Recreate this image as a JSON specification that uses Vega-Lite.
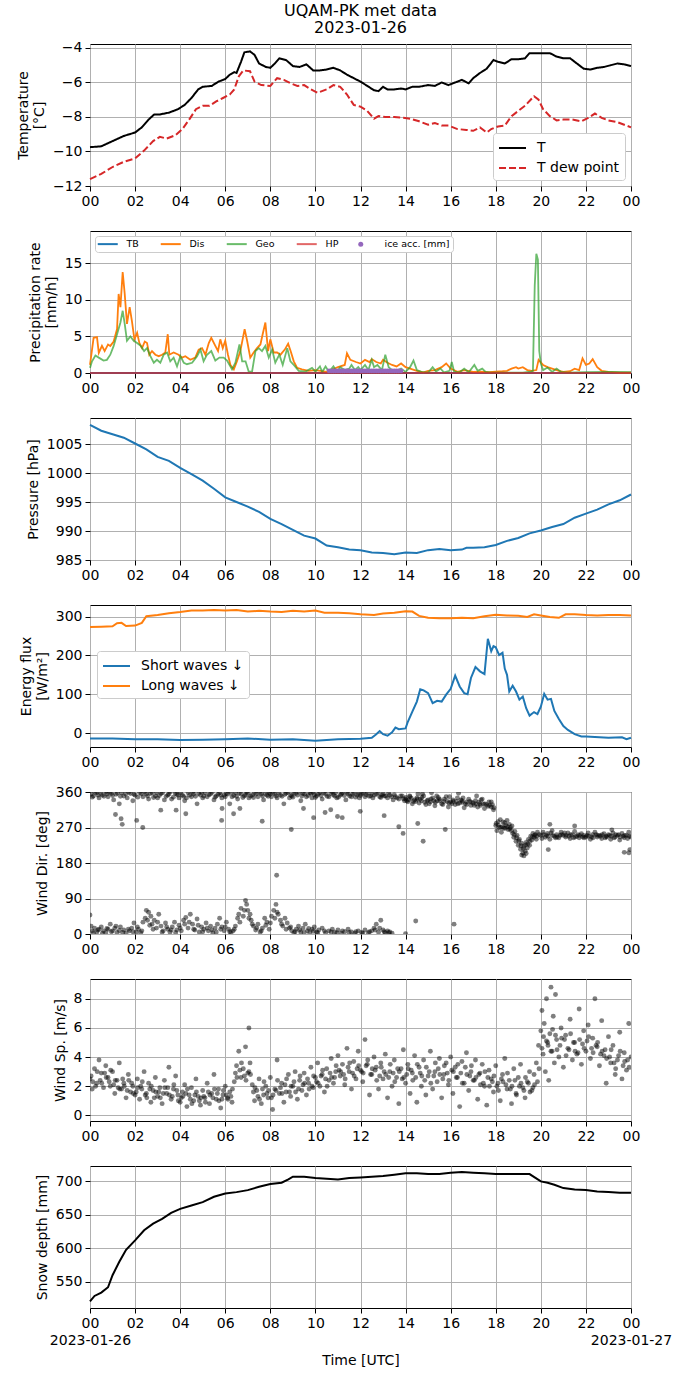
{
  "$schema": "https://vega.github.io/schema/vega-lite/v6.json",
  "padding": {"left": 15, "top": 3, "right": 0, "bottom": 0},
  "title": {"text": ["UQAM-PK met data", "2023-01-26"], "frame": "group", "anchor": "middle", "offset": 4},
  "spacing": 45,
  "bounds": "flush",
  "resolve": {"scale": {"color": "independent", "strokeDash": "independent", "y": "independent"}},
  "datasets": {
    "tT": [{"h":0,"v":-9.75},{"h":0.5,"v":-9.7},{"h":1,"v":-9.4},{"h":1.5,"v":-9.1},{"h":2,"v":-8.9},{"h":2.3,"v":-8.6},{"h":2.6,"v":-8.15},{"h":2.85,"v":-7.85},{"h":3.1,"v":-7.85},{"h":3.5,"v":-7.75},{"h":3.9,"v":-7.55},{"h":4.2,"v":-7.3},{"h":4.5,"v":-6.9},{"h":4.8,"v":-6.4},{"h":5,"v":-6.25},{"h":5.4,"v":-6.2},{"h":5.7,"v":-5.95},{"h":6,"v":-5.8},{"h":6.2,"v":-5.55},{"h":6.4,"v":-5.4},{"h":6.5,"v":-5.45},{"h":6.7,"v":-4.8},{"h":6.85,"v":-4.25},{"h":7.1,"v":-4.2},{"h":7.3,"v":-4.4},{"h":7.5,"v":-4.9},{"h":7.8,"v":-5.1},{"h":8,"v":-5.15},{"h":8.2,"v":-4.9},{"h":8.4,"v":-4.6},{"h":8.7,"v":-4.7},{"h":9,"v":-5.05},{"h":9.3,"v":-5.1},{"h":9.6,"v":-4.95},{"h":9.9,"v":-5.3},{"h":10.2,"v":-5.3},{"h":10.5,"v":-5.25},{"h":10.8,"v":-5.15},{"h":11.1,"v":-5.3},{"h":11.4,"v":-5.55},{"h":11.7,"v":-5.75},{"h":12,"v":-5.95},{"h":12.3,"v":-6.2},{"h":12.6,"v":-6.45},{"h":12.8,"v":-6.5},{"h":13,"v":-6.25},{"h":13.2,"v":-6.4},{"h":13.5,"v":-6.4},{"h":13.8,"v":-6.35},{"h":14,"v":-6.4},{"h":14.3,"v":-6.25},{"h":14.6,"v":-6.25},{"h":15,"v":-6.15},{"h":15.3,"v":-6.2},{"h":15.6,"v":-6.0},{"h":15.9,"v":-6.15},{"h":16.2,"v":-6.0},{"h":16.5,"v":-5.85},{"h":16.8,"v":-6.05},{"h":17,"v":-5.75},{"h":17.3,"v":-5.45},{"h":17.6,"v":-5.2},{"h":17.9,"v":-4.7},{"h":18.1,"v":-4.8},{"h":18.4,"v":-4.9},{"h":18.7,"v":-4.65},{"h":19,"v":-4.65},{"h":19.3,"v":-4.6},{"h":19.5,"v":-4.3},{"h":19.8,"v":-4.3},{"h":20.1,"v":-4.3},{"h":20.4,"v":-4.3},{"h":20.7,"v":-4.5},{"h":21,"v":-4.6},{"h":21.3,"v":-4.6},{"h":21.6,"v":-4.9},{"h":21.9,"v":-5.2},{"h":22.2,"v":-5.25},{"h":22.5,"v":-5.15},{"h":22.8,"v":-5.1},{"h":23.1,"v":-5.0},{"h":23.4,"v":-4.9},{"h":23.7,"v":-4.95},{"h":24,"v":-5.05}],
    "tD": [{"h":0,"v":-11.6},{"h":0.5,"v":-11.3},{"h":1,"v":-10.9},{"h":1.5,"v":-10.6},{"h":2,"v":-10.4},{"h":2.4,"v":-9.95},{"h":2.8,"v":-9.4},{"h":3.1,"v":-9.15},{"h":3.4,"v":-9.25},{"h":3.8,"v":-9.05},{"h":4.1,"v":-8.7},{"h":4.4,"v":-8.15},{"h":4.7,"v":-7.55},{"h":5,"v":-7.35},{"h":5.3,"v":-7.35},{"h":5.6,"v":-7.1},{"h":5.9,"v":-6.9},{"h":6.2,"v":-6.7},{"h":6.4,"v":-6.4},{"h":6.6,"v":-5.65},{"h":6.8,"v":-5.3},{"h":7.1,"v":-5.35},{"h":7.3,"v":-5.95},{"h":7.6,"v":-6.15},{"h":8,"v":-6.2},{"h":8.3,"v":-5.75},{"h":8.6,"v":-5.85},{"h":8.9,"v":-6.05},{"h":9.2,"v":-6.2},{"h":9.5,"v":-6.15},{"h":9.8,"v":-6.4},{"h":10.1,"v":-6.6},{"h":10.5,"v":-6.4},{"h":10.8,"v":-6.15},{"h":11.1,"v":-6.25},{"h":11.4,"v":-6.7},{"h":11.7,"v":-7.3},{"h":12,"v":-7.4},{"h":12.3,"v":-7.65},{"h":12.6,"v":-8.1},{"h":12.8,"v":-7.95},{"h":13.1,"v":-8.0},{"h":13.5,"v":-8.0},{"h":13.9,"v":-8.05},{"h":14.2,"v":-8.1},{"h":14.6,"v":-8.25},{"h":15,"v":-8.45},{"h":15.3,"v":-8.35},{"h":15.6,"v":-8.5},{"h":15.9,"v":-8.5},{"h":16.3,"v":-8.7},{"h":16.7,"v":-8.75},{"h":17,"v":-8.8},{"h":17.3,"v":-8.6},{"h":17.6,"v":-8.9},{"h":17.8,"v":-8.7},{"h":18.1,"v":-8.55},{"h":18.4,"v":-8.5},{"h":18.7,"v":-7.95},{"h":19,"v":-7.65},{"h":19.3,"v":-7.35},{"h":19.55,"v":-7.0},{"h":19.7,"v":-6.8},{"h":19.9,"v":-7.0},{"h":20.1,"v":-7.55},{"h":20.4,"v":-7.95},{"h":20.7,"v":-8.2},{"h":21,"v":-8.15},{"h":21.4,"v":-8.15},{"h":21.8,"v":-8.25},{"h":22.1,"v":-8.05},{"h":22.4,"v":-7.8},{"h":22.7,"v":-8.05},{"h":23,"v":-8.2},{"h":23.4,"v":-8.3},{"h":23.7,"v":-8.45},{"h":24,"v":-8.6}],
    "dis": [{"h":0,"v":1.1},{"h":0.16,"v":4.8},{"h":0.31,"v":4.9},{"h":0.39,"v":2.75},{"h":0.53,"v":3.7},{"h":0.65,"v":3.0},{"h":0.8,"v":3.9},{"h":0.9,"v":3.7},{"h":1.05,"v":4.3},{"h":1.2,"v":6.0},{"h":1.27,"v":10.8},{"h":1.35,"v":9.0},{"h":1.45,"v":13.8},{"h":1.54,"v":10.8},{"h":1.64,"v":6.7},{"h":1.76,"v":9.0},{"h":1.86,"v":7.1},{"h":1.97,"v":4.6},{"h":2.09,"v":5.5},{"h":2.19,"v":4.1},{"h":2.31,"v":3.4},{"h":2.43,"v":4.3},{"h":2.53,"v":4.1},{"h":2.63,"v":2.5},{"h":2.75,"v":3.0},{"h":2.9,"v":2.5},{"h":3.05,"v":2.3},{"h":3.2,"v":2.5},{"h":3.34,"v":2.8},{"h":3.45,"v":5.3},{"h":3.52,"v":2.5},{"h":3.71,"v":2.8},{"h":3.93,"v":2.5},{"h":4.08,"v":2.1},{"h":4.23,"v":2.3},{"h":4.45,"v":1.8},{"h":4.67,"v":2.1},{"h":4.82,"v":3.2},{"h":4.97,"v":3.4},{"h":5.12,"v":2.5},{"h":5.27,"v":4.1},{"h":5.38,"v":4.8},{"h":5.56,"v":3.7},{"h":5.68,"v":3.0},{"h":5.78,"v":4.6},{"h":5.89,"v":3.4},{"h":6.0,"v":4.4},{"h":6.12,"v":2.5},{"h":6.23,"v":1.1},{"h":6.38,"v":0.5},{"h":6.52,"v":1.6},{"h":6.67,"v":3.0},{"h":6.86,"v":6.0},{"h":6.97,"v":4.4},{"h":7.11,"v":2.1},{"h":7.26,"v":2.8},{"h":7.41,"v":3.4},{"h":7.56,"v":3.9},{"h":7.66,"v":5.3},{"h":7.78,"v":6.9},{"h":7.9,"v":3.0},{"h":8.0,"v":4.6},{"h":8.15,"v":2.8},{"h":8.3,"v":2.8},{"h":8.45,"v":2.5},{"h":8.64,"v":3.2},{"h":8.79,"v":4.0},{"h":8.9,"v":3.0},{"h":9.04,"v":1.6},{"h":9.19,"v":0.7},{"h":9.4,"v":0.5},{"h":9.7,"v":0.3},{"h":10.0,"v":0.4},{"h":10.5,"v":0.15},{"h":11.0,"v":0.8},{"h":11.3,"v":1.1},{"h":11.4,"v":2.7},{"h":11.55,"v":1.8},{"h":11.8,"v":1.5},{"h":12.0,"v":1.3},{"h":12.2,"v":1.8},{"h":12.4,"v":1.5},{"h":12.5,"v":1.9},{"h":12.7,"v":1.5},{"h":12.9,"v":1.3},{"h":13.0,"v":1.8},{"h":13.2,"v":1.4},{"h":13.4,"v":1.1},{"h":13.6,"v":0.9},{"h":13.8,"v":1.3},{"h":14.0,"v":0.8},{"h":14.2,"v":0.6},{"h":14.5,"v":0.3},{"h":14.8,"v":0.1},{"h":15.0,"v":0.3},{"h":15.3,"v":0.4},{"h":15.6,"v":0.8},{"h":15.8,"v":1.3},{"h":16.0,"v":0.6},{"h":16.3,"v":0.15},{"h":16.6,"v":0.4},{"h":17.0,"v":0.15},{"h":17.3,"v":0.2},{"h":17.7,"v":0.1},{"h":18.0,"v":0.2},{"h":18.3,"v":0.25},{"h":18.5,"v":0.3},{"h":18.7,"v":0.6},{"h":18.9,"v":0.8},{"h":19.0,"v":0.6},{"h":19.2,"v":0.8},{"h":19.4,"v":0.4},{"h":19.6,"v":0.3},{"h":19.8,"v":0.4},{"h":19.9,"v":1.8},{"h":20.1,"v":1.1},{"h":20.3,"v":0.8},{"h":20.5,"v":0.6},{"h":20.8,"v":0.3},{"h":21.0,"v":0.15},{"h":21.3,"v":0.25},{"h":21.5,"v":0.6},{"h":21.7,"v":0.4},{"h":21.85,"v":2.0},{"h":22.0,"v":1.1},{"h":22.15,"v":1.3},{"h":22.3,"v":1.9},{"h":22.5,"v":0.8},{"h":22.7,"v":0.3},{"h":23.0,"v":0.15},{"h":23.5,"v":0.05},{"h":24.0,"v":0.05}],
    "geo": [{"h":0,"v":0.7},{"h":0.09,"v":1.6},{"h":0.24,"v":2.4},{"h":0.39,"v":2.1},{"h":0.6,"v":1.7},{"h":0.75,"v":1.8},{"h":0.9,"v":2.5},{"h":1.05,"v":3.7},{"h":1.2,"v":5.3},{"h":1.35,"v":6.9},{"h":1.45,"v":8.5},{"h":1.54,"v":6.7},{"h":1.64,"v":4.4},{"h":1.79,"v":5.0},{"h":1.94,"v":4.4},{"h":2.09,"v":4.1},{"h":2.25,"v":3.7},{"h":2.4,"v":3.0},{"h":2.53,"v":3.4},{"h":2.68,"v":2.3},{"h":2.83,"v":1.4},{"h":2.97,"v":1.8},{"h":3.12,"v":1.4},{"h":3.27,"v":2.5},{"h":3.42,"v":2.8},{"h":3.56,"v":1.6},{"h":3.71,"v":2.1},{"h":3.86,"v":0.9},{"h":4.01,"v":2.3},{"h":4.16,"v":1.4},{"h":4.3,"v":1.2},{"h":4.53,"v":1.4},{"h":4.75,"v":2.3},{"h":4.9,"v":3.2},{"h":5.04,"v":1.6},{"h":5.19,"v":2.5},{"h":5.38,"v":3.0},{"h":5.56,"v":1.7},{"h":5.74,"v":2.1},{"h":5.93,"v":2.1},{"h":6.08,"v":1.7},{"h":6.3,"v":0.5},{"h":6.45,"v":1.4},{"h":6.63,"v":3.9},{"h":6.75,"v":1.6},{"h":6.9,"v":1.6},{"h":7.04,"v":0.2},{"h":7.19,"v":0.2},{"h":7.34,"v":3.0},{"h":7.49,"v":3.4},{"h":7.63,"v":3.0},{"h":7.78,"v":3.7},{"h":7.93,"v":2.1},{"h":8.08,"v":3.2},{"h":8.22,"v":1.4},{"h":8.4,"v":2.5},{"h":8.55,"v":1.1},{"h":8.75,"v":3.4},{"h":8.89,"v":1.6},{"h":9.04,"v":1.1},{"h":9.26,"v":0.3},{"h":9.56,"v":0.2},{"h":9.85,"v":0.7},{"h":10.0,"v":0.2},{"h":10.2,"v":0.9},{"h":10.3,"v":0.15},{"h":10.45,"v":0.9},{"h":10.6,"v":0.15},{"h":10.8,"v":0.9},{"h":10.95,"v":0.15},{"h":11.1,"v":0.8},{"h":11.3,"v":0.4},{"h":11.5,"v":0.6},{"h":11.6,"v":1.1},{"h":11.75,"v":0.4},{"h":11.9,"v":0.8},{"h":12.0,"v":0.4},{"h":12.2,"v":1.1},{"h":12.35,"v":0.4},{"h":12.5,"v":1.8},{"h":12.6,"v":0.8},{"h":12.75,"v":1.1},{"h":12.95,"v":0.4},{"h":13.1,"v":2.5},{"h":13.25,"v":0.8},{"h":13.4,"v":0.4},{"h":13.6,"v":0.3},{"h":13.8,"v":0.6},{"h":14.0,"v":0.15},{"h":14.2,"v":0.8},{"h":14.35,"v":1.7},{"h":14.5,"v":0.4},{"h":14.7,"v":0.15},{"h":15.0,"v":0.05},{"h":15.2,"v":0.8},{"h":15.35,"v":0.2},{"h":15.55,"v":0.6},{"h":15.7,"v":0.1},{"h":15.95,"v":0.3},{"h":16.05,"v":1.5},{"h":16.15,"v":0.2},{"h":16.4,"v":0.1},{"h":16.6,"v":0.6},{"h":16.8,"v":0.1},{"h":17.05,"v":1.1},{"h":17.2,"v":0.3},{"h":17.4,"v":0.6},{"h":17.55,"v":0.15},{"h":17.8,"v":0.05},{"h":18.5,"v":0.05},{"h":19.2,"v":0.05},{"h":19.55,"v":0.2},{"h":19.65,"v":0.3},{"h":19.73,"v":12},{"h":19.8,"v":16.3},{"h":19.87,"v":15.5},{"h":19.93,"v":3},{"h":20.0,"v":1.3},{"h":20.1,"v":0.4},{"h":20.3,"v":0.75},{"h":20.5,"v":0.15},{"h":20.7,"v":0.6},{"h":20.9,"v":0.15},{"h":21.2,"v":0.05},{"h":22.0,"v":0.1},{"h":23.0,"v":0.15},{"h":24.0,"v":0.1}],
    "zero": [{"h":0,"v":0},{"h":24,"v":0}],
    "ice": [{"h":10.6,"v":0.3},{"h":10.7,"v":0.3},{"h":10.8,"v":0.3},{"h":10.9,"v":0.3},{"h":11.0,"v":0.3},{"h":11.1,"v":0.3},{"h":11.2,"v":0.3},{"h":11.3,"v":0.3},{"h":11.4,"v":0.3},{"h":11.5,"v":0.3},{"h":11.6,"v":0.3},{"h":11.7,"v":0.3},{"h":11.8,"v":0.3},{"h":11.9,"v":0.3},{"h":12.0,"v":0.3},{"h":12.1,"v":0.3},{"h":12.2,"v":0.3},{"h":12.3,"v":0.3},{"h":12.4,"v":0.3},{"h":12.5,"v":0.3},{"h":12.6,"v":0.3},{"h":12.7,"v":0.3},{"h":12.8,"v":0.3},{"h":12.9,"v":0.3},{"h":13.0,"v":0.3},{"h":13.1,"v":0.3},{"h":13.2,"v":0.3},{"h":13.3,"v":0.3},{"h":13.4,"v":0.3},{"h":13.5,"v":0.3},{"h":13.6,"v":0.3},{"h":13.7,"v":0.3},{"h":13.8,"v":0.3}],
    "pres": [{"h":0,"v":1008.3},{"h":0.5,"v":1007.3},{"h":1,"v":1006.7},{"h":1.5,"v":1006.1},{"h":2,"v":1005.1},{"h":2.5,"v":1004.1},{"h":3,"v":1002.8},{"h":3.5,"v":1002.1},{"h":4,"v":1000.9},{"h":4.5,"v":999.8},{"h":5,"v":998.7},{"h":5.5,"v":997.3},{"h":6,"v":995.8},{"h":6.5,"v":995.0},{"h":7,"v":994.2},{"h":7.5,"v":993.3},{"h":8,"v":992.1},{"h":8.5,"v":991.2},{"h":9,"v":990.2},{"h":9.5,"v":989.2},{"h":10,"v":988.7},{"h":10.5,"v":987.5},{"h":11,"v":987.2},{"h":11.5,"v":986.8},{"h":12,"v":986.7},{"h":12.5,"v":986.3},{"h":13,"v":986.2},{"h":13.5,"v":986.0},{"h":14,"v":986.3},{"h":14.5,"v":986.2},{"h":15,"v":986.7},{"h":15.5,"v":986.9},{"h":16,"v":986.7},{"h":16.5,"v":986.8},{"h":16.7,"v":987.1},{"h":17,"v":987.1},{"h":17.5,"v":987.2},{"h":18,"v":987.6},{"h":18.5,"v":988.3},{"h":19,"v":988.8},{"h":19.5,"v":989.6},{"h":20,"v":990.1},{"h":20.5,"v":990.7},{"h":21,"v":991.2},{"h":21.5,"v":992.3},{"h":22,"v":993.0},{"h":22.5,"v":993.7},{"h":23,"v":994.6},{"h":23.5,"v":995.3},{"h":24,"v":996.3}],
    "lw": [{"h":0,"v":273},{"h":0.5,"v":274},{"h":1,"v":275},{"h":1.2,"v":283},{"h":1.4,"v":284},{"h":1.6,"v":276},{"h":2,"v":277},{"h":2.3,"v":284},{"h":2.5,"v":301},{"h":3,"v":304},{"h":3.5,"v":309},{"h":4,"v":312},{"h":4.5,"v":316},{"h":5,"v":316},{"h":5.5,"v":317},{"h":6,"v":316},{"h":6.5,"v":317},{"h":7,"v":313},{"h":7.5,"v":315},{"h":8,"v":313},{"h":8.5,"v":312},{"h":9,"v":315},{"h":9.5,"v":313},{"h":10,"v":316},{"h":10.4,"v":310},{"h":11,"v":310},{"h":11.5,"v":309},{"h":12,"v":306},{"h":12.6,"v":304},{"h":13,"v":308},{"h":13.5,"v":310},{"h":14,"v":314},{"h":14.3,"v":313},{"h":14.6,"v":302},{"h":15,"v":297},{"h":15.5,"v":296},{"h":16,"v":296},{"h":16.5,"v":297},{"h":17,"v":296},{"h":17.5,"v":301},{"h":18,"v":305},{"h":18.5,"v":303},{"h":19,"v":302},{"h":19.4,"v":299},{"h":19.7,"v":306},{"h":20,"v":303},{"h":20.4,"v":299},{"h":20.8,"v":297},{"h":21.1,"v":306},{"h":21.5,"v":306},{"h":22,"v":304},{"h":22.5,"v":303},{"h":23,"v":304},{"h":23.5,"v":304},{"h":24,"v":303}],
    "sw": [{"h":0,"v":-14},{"h":1,"v":-14},{"h":2,"v":-16},{"h":3,"v":-16},{"h":4,"v":-18},{"h":5,"v":-17},{"h":6,"v":-16},{"h":7,"v":-14},{"h":8,"v":-17},{"h":9,"v":-16},{"h":10,"v":-20},{"h":11,"v":-16},{"h":12,"v":-15},{"h":12.5,"v":-12},{"h":12.7,"v":-3},{"h":12.85,"v":5},{"h":13,"v":-3},{"h":13.2,"v":-7},{"h":13.4,"v":2},{"h":13.55,"v":14},{"h":13.7,"v":10},{"h":14,"v":12},{"h":14.1,"v":29},{"h":14.3,"v":55},{"h":14.5,"v":81},{"h":14.65,"v":113},{"h":14.8,"v":110},{"h":15,"v":103},{"h":15.2,"v":77},{"h":15.4,"v":83},{"h":15.6,"v":81},{"h":15.8,"v":99},{"h":16,"v":114},{"h":16.2,"v":148},{"h":16.4,"v":120},{"h":16.6,"v":103},{"h":16.75,"v":100},{"h":16.9,"v":142},{"h":17.1,"v":170},{"h":17.3,"v":159},{"h":17.5,"v":152},{"h":17.65,"v":243},{"h":17.8,"v":211},{"h":17.9,"v":224},{"h":18,"v":221},{"h":18.15,"v":201},{"h":18.3,"v":207},{"h":18.4,"v":166},{"h":18.5,"v":150},{"h":18.6,"v":107},{"h":18.75,"v":122},{"h":18.9,"v":107},{"h":19.05,"v":86},{"h":19.2,"v":94},{"h":19.35,"v":64},{"h":19.5,"v":45},{"h":19.7,"v":54},{"h":19.85,"v":49},{"h":20,"v":68},{"h":20.15,"v":101},{"h":20.3,"v":86},{"h":20.45,"v":88},{"h":20.6,"v":57},{"h":20.8,"v":36},{"h":21,"v":18},{"h":21.2,"v":8},{"h":21.5,"v":-3},{"h":21.8,"v":-9},{"h":22,"v":-9},{"h":23,"v":-12},{"h":23.6,"v":-11},{"h":23.8,"v":-16},{"h":24,"v":-12}],
    "wd": [{"h":0.05,"v":355},{"h":0.15,"v":350},{"h":0.3,"v":358},{"h":0.4,"v":345},{"h":0.55,"v":352},{"h":0.7,"v":360},{"h":0.8,"v":348},{"h":0.95,"v":356},{"h":1.05,"v":340},{"h":1.15,"v":354},{"h":1.3,"v":330},{"h":1.4,"v":358},{"h":1.5,"v":350},{"h":1.65,"v":345},{"h":1.8,"v":356},{"h":1.9,"v":338},{"h":2.0,"v":352},{"h":2.2,"v":358},{"h":2.35,"v":348},{"h":2.5,"v":355},{"h":2.6,"v":342},{"h":2.75,"v":358},{"h":2.9,"v":350},{"h":3.0,"v":345},{"h":3.15,"v":356},{"h":3.3,"v":340},{"h":3.45,"v":352},{"h":3.55,"v":360},{"h":3.7,"v":347},{"h":3.85,"v":355},{"h":3.95,"v":345},{"h":4.1,"v":352},{"h":4.2,"v":338},{"h":4.35,"v":358},{"h":4.5,"v":348},{"h":4.6,"v":355},{"h":4.75,"v":330},{"h":4.9,"v":352},{"h":5.0,"v":345},{"h":5.1,"v":358},{"h":5.2,"v":348},{"h":5.35,"v":355},{"h":5.5,"v":340},{"h":5.6,"v":350},{"h":5.75,"v":358},{"h":5.85,"v":345},{"h":5.95,"v":352},{"h":6.05,"v":356},{"h":6.2,"v":330},{"h":6.3,"v":348},{"h":6.45,"v":358},{"h":6.55,"v":342},{"h":6.7,"v":355},{"h":6.85,"v":350},{"h":6.95,"v":360},{"h":7.05,"v":345},{"h":7.2,"v":352},{"h":7.3,"v":358},{"h":7.45,"v":348},{"h":7.6,"v":355},{"h":7.7,"v":340},{"h":7.85,"v":352},{"h":7.95,"v":358},{"h":8.05,"v":348},{"h":8.2,"v":355},{"h":8.3,"v":345},{"h":8.45,"v":352},{"h":8.6,"v":330},{"h":8.7,"v":357},{"h":8.85,"v":345},{"h":8.95,"v":350},{"h":9.05,"v":358},{"h":9.2,"v":352},{"h":9.35,"v":338},{"h":9.45,"v":356},{"h":9.6,"v":348},{"h":9.75,"v":358},{"h":9.85,"v":345},{"h":9.95,"v":353},{"h":10.05,"v":350},{"h":10.2,"v":358},{"h":10.3,"v":342},{"h":10.45,"v":355},{"h":10.6,"v":348},{"h":10.75,"v":360},{"h":10.85,"v":350},{"h":10.95,"v":345},{"h":11.1,"v":352},{"h":11.2,"v":358},{"h":11.35,"v":340},{"h":11.45,"v":355},{"h":11.6,"v":348},{"h":11.7,"v":358},{"h":11.85,"v":352},{"h":11.95,"v":345},{"h":12.05,"v":355},{"h":12.2,"v":348},{"h":12.3,"v":358},{"h":12.45,"v":350},{"h":12.55,"v":345},{"h":12.7,"v":355},{"h":12.85,"v":348},{"h":12.95,"v":352},{"h":13.05,"v":350},{"h":13.2,"v":345},{"h":13.3,"v":352},{"h":13.45,"v":340},{"h":13.55,"v":348},{"h":13.7,"v":342},{"h":13.85,"v":350},{"h":13.95,"v":338},
      {"h":0.1,"v":347},{"h":0.22,"v":359},{"h":0.35,"v":352},{"h":0.48,"v":356},{"h":0.62,"v":349},{"h":0.75,"v":355},{"h":0.88,"v":359},{"h":1.0,"v":351},{"h":1.22,"v":357},{"h":1.35,"v":349},{"h":1.58,"v":355},{"h":1.72,"v":359},{"h":1.95,"v":354},{"h":2.12,"v":347},{"h":2.28,"v":355},{"h":2.42,"v":360},{"h":2.55,"v":350},{"h":2.68,"v":356},{"h":2.82,"v":346},{"h":2.95,"v":358},{"h":3.08,"v":351},{"h":3.22,"v":358},{"h":3.38,"v":349},{"h":3.5,"v":355},{"h":3.62,"v":342},{"h":3.78,"v":357},{"h":3.9,"v":352},{"h":4.02,"v":358},{"h":4.15,"v":349},{"h":4.28,"v":345},{"h":4.42,"v":352},{"h":4.55,"v":359},{"h":4.68,"v":349},{"h":4.82,"v":356},{"h":4.95,"v":359},{"h":5.05,"v":350},{"h":5.28,"v":353},{"h":5.42,"v":359},{"h":5.55,"v":347},{"h":5.68,"v":354},{"h":5.8,"v":352},{"h":6.0,"v":348},{"h":6.12,"v":355},{"h":6.25,"v":359},{"h":6.38,"v":351},{"h":6.5,"v":349},{"h":6.62,"v":357},{"h":6.78,"v":346},{"h":6.9,"v":353},{"h":7.0,"v":357},{"h":7.12,"v":350},{"h":7.25,"v":346},{"h":7.38,"v":355},{"h":7.52,"v":359},{"h":7.65,"v":350},{"h":7.78,"v":356},{"h":7.9,"v":349},{"h":8.0,"v":355},{"h":8.12,"v":359},{"h":8.25,"v":350},{"h":8.38,"v":357},{"h":8.52,"v":349},{"h":8.65,"v":354},{"h":8.78,"v":359},{"h":8.9,"v":352},{"h":9.0,"v":347},{"h":9.12,"v":356},{"h":9.28,"v":359},{"h":9.4,"v":350},{"h":9.52,"v":355},{"h":9.68,"v":351},{"h":9.8,"v":356},{"h":9.9,"v":359},{"h":10.0,"v":346},{"h":10.12,"v":354},{"h":10.25,"v":351},{"h":10.38,"v":358},{"h":10.52,"v":349},{"h":10.68,"v":356},{"h":10.8,"v":353},{"h":10.9,"v":358},{"h":11.02,"v":347},{"h":11.15,"v":355},{"h":11.28,"v":351},{"h":11.4,"v":359},{"h":11.52,"v":350},{"h":11.65,"v":354},{"h":11.78,"v":347},{"h":11.9,"v":356},{"h":12.0,"v":351},{"h":12.12,"v":358},{"h":12.25,"v":353},{"h":12.38,"v":349},{"h":12.5,"v":356},{"h":12.62,"v":352},{"h":12.78,"v":358},{"h":12.9,"v":346},{"h":13.0,"v":355},{"h":13.12,"v":350},{"h":13.25,"v":357},{"h":13.38,"v":348},{"h":13.5,"v":353},{"h":13.62,"v":345},{"h":13.78,"v":350},{"h":13.9,"v":343},
      {"h":1.13,"v":303},{"h":1.38,"v":292},{"h":1.43,"v":278},{"h":2.07,"v":288},{"h":2.34,"v":270},{"h":3.14,"v":314},{"h":3.82,"v":314},{"h":4.25,"v":305},{"h":5.84,"v":288},{"h":5.86,"v":318},{"h":6.37,"v":305},{"h":6.65,"v":318},{"h":7.64,"v":286},{"h":8.28,"v":149},{"h":8.93,"v":265},{"h":9.47,"v":318},{"h":9.92,"v":295},{"h":10.43,"v":308},{"h":10.68,"v":315},{"h":10.98,"v":298},{"h":11.19,"v":295},{"h":11.99,"v":311},{"h":13.05,"v":300},{"h":13.7,"v":272},{"h":13.89,"v":255},{"h":14.54,"v":280},{"h":14.78,"v":235},{"h":15.76,"v":265},
      {"h":0.0,"v":48},{"h":0.05,"v":20},{"h":0.1,"v":8},{"h":0.2,"v":15},{"h":0.3,"v":5},{"h":0.4,"v":12},{"h":0.5,"v":18},{"h":0.6,"v":8},{"h":0.7,"v":3},{"h":0.8,"v":12},{"h":0.9,"v":25},{"h":1.0,"v":8},{"h":1.1,"v":15},{"h":1.2,"v":4},{"h":1.35,"v":18},{"h":1.5,"v":10},{"h":1.6,"v":2},{"h":1.75,"v":8},{"h":1.85,"v":15},{"h":1.95,"v":28},{"h":2.05,"v":5},{"h":2.15,"v":12},{"h":2.25,"v":3},{"h":2.35,"v":30},{"h":2.45,"v":40},{"h":2.5,"v":60},{"h":2.6,"v":55},{"h":2.7,"v":45},{"h":2.75,"v":25},{"h":2.85,"v":35},{"h":2.95,"v":15},{"h":3.05,"v":50},{"h":3.15,"v":20},{"h":3.25,"v":8},{"h":3.35,"v":28},{"h":3.45,"v":12},{"h":3.55,"v":5},{"h":3.65,"v":18},{"h":3.75,"v":30},{"h":3.85,"v":10},{"h":3.95,"v":22},{"h":4.05,"v":8},{"h":4.15,"v":35},{"h":4.25,"v":42},{"h":4.35,"v":15},{"h":4.45,"v":50},{"h":4.55,"v":25},{"h":4.65,"v":10},{"h":4.75,"v":38},{"h":4.85,"v":5},{"h":4.95,"v":18},{"h":5.05,"v":12},{"h":5.15,"v":28},{"h":5.25,"v":8},{"h":5.35,"v":20},{"h":5.45,"v":3},{"h":5.55,"v":15},{"h":5.65,"v":25},{"h":5.75,"v":40},{"h":5.85,"v":18},{"h":5.95,"v":8},{"h":6.05,"v":30},{"h":6.15,"v":12},{"h":6.25,"v":3},{"h":6.35,"v":8},{"h":6.45,"v":20},{"h":6.55,"v":40},{"h":6.6,"v":50},{"h":6.7,"v":65},{"h":6.8,"v":45},{"h":6.9,"v":85},{"h":6.95,"v":75},{"h":7.0,"v":60},{"h":7.1,"v":50},{"h":7.15,"v":35},{"h":7.25,"v":20},{"h":7.35,"v":10},{"h":7.45,"v":25},{"h":7.55,"v":5},{"h":7.65,"v":15},{"h":7.75,"v":40},{"h":7.85,"v":30},{"h":7.95,"v":12},{"h":8.05,"v":45},{"h":8.15,"v":60},{"h":8.25,"v":75},{"h":8.35,"v":50},{"h":8.45,"v":35},{"h":8.55,"v":20},{"h":8.65,"v":40},{"h":8.75,"v":28},{"h":8.85,"v":15},{"h":8.95,"v":8},{"h":9.05,"v":3},{"h":9.15,"v":12},{"h":9.25,"v":20},{"h":9.35,"v":5},{"h":9.45,"v":15},{"h":9.55,"v":25},{"h":9.65,"v":8},{"h":9.75,"v":3},{"h":9.85,"v":12},{"h":9.95,"v":18},{"h":10.05,"v":5},{"h":10.15,"v":10},{"h":10.3,"v":15},{"h":10.45,"v":3},{"h":10.6,"v":8},{"h":10.75,"v":12},{"h":10.85,"v":4},{"h":11.0,"v":10},{"h":11.15,"v":2},{"h":11.3,"v":6},{"h":11.45,"v":12},{"h":11.6,"v":5},{"h":11.75,"v":2},{"h":11.9,"v":8},{"h":12.05,"v":4},{"h":12.2,"v":10},{"h":12.35,"v":3},{"h":12.5,"v":8},{"h":12.6,"v":15},{"h":12.7,"v":25},{"h":12.8,"v":5},{"h":12.9,"v":35},{"h":13.0,"v":10},{"h":13.1,"v":3},{"h":13.2,"v":8},{"h":13.3,"v":5},{"h":13.4,"v":2},{"h":14.0,"v":1},{"h":14.45,"v":33},{"h":16.15,"v":25},
      {"h":0.15,"v":3},{"h":0.35,"v":10},{"h":0.55,"v":2},{"h":0.75,"v":14},{"h":0.95,"v":6},{"h":1.15,"v":20},{"h":1.3,"v":9},{"h":1.45,"v":4},{"h":1.7,"v":12},{"h":1.9,"v":6},{"h":2.1,"v":18},{"h":2.3,"v":8},{"h":2.55,"v":35},{"h":2.65,"v":22},{"h":2.8,"v":12},{"h":3.0,"v":30},{"h":3.2,"v":5},{"h":3.4,"v":18},{"h":3.6,"v":10},{"h":3.8,"v":4},{"h":4.0,"v":15},{"h":4.2,"v":25},{"h":4.4,"v":30},{"h":4.6,"v":12},{"h":4.8,"v":22},{"h":5.0,"v":6},{"h":5.2,"v":15},{"h":5.4,"v":10},{"h":5.6,"v":5},{"h":5.8,"v":12},{"h":6.0,"v":18},{"h":6.2,"v":6},{"h":6.4,"v":12},{"h":6.65,"v":30},{"h":6.85,"v":60},{"h":7.05,"v":40},{"h":7.2,"v":25},{"h":7.4,"v":15},{"h":7.6,"v":8},{"h":7.8,"v":22},{"h":8.0,"v":28},{"h":8.2,"v":40},{"h":8.3,"v":55},{"h":8.5,"v":25},{"h":8.7,"v":12},{"h":8.9,"v":18},{"h":9.1,"v":6},{"h":9.3,"v":10},{"h":9.5,"v":4},{"h":9.7,"v":14},{"h":9.9,"v":7},{"h":10.1,"v":3},{"h":10.4,"v":8},{"h":10.7,"v":5},{"h":10.95,"v":3},{"h":11.2,"v":8},{"h":11.5,"v":4},{"h":11.8,"v":6},{"h":12.1,"v":2},{"h":12.4,"v":6},{"h":12.65,"v":10},{"h":12.85,"v":15},{"h":13.05,"v":6},{"h":13.25,"v":3},
      {"h":14.0,"v":342},{"h":14.1,"v":335},{"h":14.2,"v":348},{"h":14.3,"v":330},{"h":14.4,"v":340},{"h":14.5,"v":345},{"h":14.6,"v":332},{"h":14.7,"v":338},{"h":14.8,"v":350},{"h":14.9,"v":328},{"h":15.0,"v":340},{"h":15.1,"v":335},{"h":15.2,"v":345},{"h":15.3,"v":325},{"h":15.4,"v":338},{"h":15.5,"v":342},{"h":15.6,"v":330},{"h":15.7,"v":336},{"h":15.8,"v":348},{"h":15.9,"v":322},{"h":16.0,"v":335},{"h":16.1,"v":340},{"h":16.2,"v":328},{"h":16.3,"v":345},{"h":16.4,"v":332},{"h":16.5,"v":338},{"h":16.6,"v":320},{"h":16.7,"v":335},{"h":16.8,"v":342},{"h":16.9,"v":326},{"h":17.0,"v":332},{"h":17.1,"v":338},{"h":17.2,"v":322},{"h":17.3,"v":330},{"h":17.4,"v":342},{"h":17.5,"v":318},{"h":17.6,"v":328},{"h":17.7,"v":335},{"h":17.8,"v":322},{"h":17.9,"v":315},{"h":14.05,"v":338},{"h":14.25,"v":344},{"h":14.45,"v":336},{"h":14.65,"v":342},{"h":14.85,"v":334},{"h":15.05,"v":330},{"h":15.25,"v":338},{"h":15.45,"v":346},{"h":15.65,"v":328},{"h":15.85,"v":336},{"h":16.05,"v":330},{"h":16.25,"v":336},{"h":16.45,"v":340},{"h":16.65,"v":330},{"h":16.85,"v":336},{"h":17.05,"v":326},{"h":17.25,"v":334},{"h":17.45,"v":330},{"h":17.65,"v":324},{"h":17.85,"v":328},{"h":14.55,"v":355},{"h":15.15,"v":358},{"h":16.35,"v":357},{"h":17.15,"v":350},
      {"h":14.02,"v":346},{"h":14.15,"v":340},{"h":14.35,"v":336},{"h":14.52,"v":342},{"h":14.72,"v":346},{"h":14.95,"v":338},{"h":15.12,"v":342},{"h":15.32,"v":334},{"h":15.52,"v":338},{"h":15.72,"v":342},{"h":15.92,"v":332},{"h":16.12,"v":336},{"h":16.32,"v":330},{"h":16.52,"v":334},{"h":16.72,"v":328},{"h":16.92,"v":334},{"h":17.12,"v":330},{"h":17.32,"v":326},{"h":17.52,"v":330},{"h":17.72,"v":326},{"h":17.92,"v":320},{"h":14.18,"v":350},{"h":14.75,"v":355},{"h":15.38,"v":350},{"h":15.95,"v":348},{"h":16.55,"v":345},{"h":17.35,"v":340},{"h":17.8,"v":335},
      {"h":18.0,"v":275},{"h":18.05,"v":262},{"h":18.1,"v":285},{"h":18.15,"v":270},{"h":18.2,"v":290},{"h":18.25,"v":258},{"h":18.3,"v":272},{"h":18.35,"v":268},{"h":18.4,"v":282},{"h":18.45,"v":275},{"h":18.5,"v":288},{"h":18.55,"v":265},{"h":18.6,"v":278},{"h":18.65,"v":270},{"h":18.7,"v":262},{"h":18.75,"v":255},{"h":18.8,"v":245},{"h":18.85,"v":260},{"h":18.9,"v":235},{"h":18.95,"v":250},{"h":19.0,"v":225},{"h":19.05,"v":240},{"h":19.1,"v":215},{"h":19.15,"v":230},{"h":19.2,"v":205},{"h":19.25,"v":222},{"h":19.3,"v":210},{"h":19.35,"v":232},{"h":19.4,"v":218},{"h":19.45,"v":240},{"h":19.5,"v":225},{"h":19.55,"v":248},{"h":19.6,"v":238},{"h":19.65,"v":255},{"h":19.7,"v":245},{"h":19.75,"v":252},{"h":19.8,"v":240},{"h":19.85,"v":258},
      {"h":18.02,"v":280},{"h":18.12,"v":276},{"h":18.22,"v":270},{"h":18.32,"v":284},{"h":18.42,"v":268},{"h":18.52,"v":272},{"h":18.62,"v":266},{"h":18.72,"v":274},{"h":18.82,"v":252},{"h":18.92,"v":244},{"h":19.02,"v":236},{"h":19.12,"v":224},{"h":19.22,"v":216},{"h":19.32,"v":226},{"h":19.42,"v":228},{"h":19.52,"v":236},{"h":19.62,"v":246},{"h":19.72,"v":250},{"h":19.82,"v":248},{"h":19.92,"v":252},{"h":19.15,"v":200},{"h":19.25,"v":198},{"h":19.35,"v":204},
      {"h":20.0,"v":250},{"h":20.1,"v":258},{"h":20.2,"v":245},{"h":20.3,"v":255},{"h":20.4,"v":240},{"h":20.5,"v":262},{"h":20.6,"v":248},{"h":20.7,"v":252},{"h":20.8,"v":244},{"h":20.9,"v":258},{"h":21.0,"v":250},{"h":21.1,"v":246},{"h":21.2,"v":256},{"h":21.3,"v":242},{"h":21.4,"v":252},{"h":21.5,"v":260},{"h":21.6,"v":248},{"h":21.7,"v":244},{"h":21.8,"v":254},{"h":21.9,"v":250},{"h":22.0,"v":246},{"h":22.1,"v":256},{"h":22.2,"v":240},{"h":22.3,"v":252},{"h":22.4,"v":258},{"h":22.5,"v":246},{"h":22.6,"v":250},{"h":22.7,"v":242},{"h":22.8,"v":254},{"h":22.9,"v":248},{"h":23.0,"v":252},{"h":23.1,"v":240},{"h":23.2,"v":256},{"h":23.3,"v":246},{"h":23.4,"v":250},{"h":23.5,"v":238},{"h":23.6,"v":255},{"h":23.7,"v":244},{"h":23.8,"v":250},{"h":23.9,"v":258},{"h":24.0,"v":246},{"h":20.05,"v":242},{"h":20.25,"v":250},{"h":20.45,"v":256},{"h":20.65,"v":244},{"h":20.85,"v":250},{"h":21.05,"v":256},{"h":21.25,"v":248},{"h":21.45,"v":244},{"h":21.65,"v":252},{"h":21.85,"v":246},{"h":22.05,"v":250},{"h":22.25,"v":246},{"h":22.45,"v":252},{"h":22.65,"v":248},{"h":22.85,"v":244},{"h":23.05,"v":250},{"h":23.25,"v":244},{"h":23.45,"v":252},{"h":23.65,"v":248},{"h":23.85,"v":242},{"h":20.4,"v":278},{"h":21.5,"v":274},{"h":23.7,"v":207},{"h":23.9,"v":206},{"h":23.95,"v":214},{"h":20.33,"v":214},{"h":23.15,"v":264},
      {"h":20.12,"v":252},{"h":20.32,"v":248},{"h":20.52,"v":250},{"h":20.72,"v":246},{"h":20.92,"v":252},{"h":21.12,"v":250},{"h":21.32,"v":252},{"h":21.52,"v":246},{"h":21.72,"v":250},{"h":21.92,"v":244},{"h":22.12,"v":248},{"h":22.32,"v":244},{"h":22.52,"v":250},{"h":22.72,"v":252},{"h":22.92,"v":246},{"h":23.12,"v":248},{"h":23.32,"v":252},{"h":23.52,"v":246},{"h":23.72,"v":250},{"h":23.92,"v":248}],
    "ws": [{"h":0.0,"v":2.5},{"h":0.1,"v":1.8},{"h":0.2,"v":3.2},{"h":0.3,"v":2.2},{"h":0.4,"v":3.8},{"h":0.5,"v":2.9},{"h":0.6,"v":1.9},{"h":0.7,"v":3.4},{"h":0.8,"v":2.6},{"h":0.9,"v":2.0},{"h":1.0,"v":3.0},{"h":1.1,"v":1.5},{"h":1.2,"v":2.4},{"h":1.3,"v":3.6},{"h":1.4,"v":1.8},{"h":1.5,"v":2.2},{"h":1.6,"v":1.2},{"h":1.7,"v":2.8},{"h":1.8,"v":1.6},{"h":1.9,"v":2.0},{"h":2.0,"v":1.4},{"h":2.1,"v":2.5},{"h":2.2,"v":1.1},{"h":2.3,"v":1.8},{"h":2.4,"v":3.0},{"h":2.5,"v":1.5},{"h":2.6,"v":2.2},{"h":2.7,"v":0.9},{"h":2.8,"v":1.7},{"h":2.9,"v":2.6},{"h":3.0,"v":1.3},{"h":3.1,"v":1.9},{"h":3.2,"v":0.8},{"h":3.3,"v":2.4},{"h":3.4,"v":1.5},{"h":3.5,"v":3.3},{"h":3.6,"v":1.1},{"h":3.7,"v":1.8},{"h":3.8,"v":2.7},{"h":3.9,"v":1.4},{"h":4.0,"v":0.9},{"h":4.1,"v":1.6},{"h":4.2,"v":2.1},{"h":4.3,"v":0.6},{"h":4.4,"v":1.4},{"h":4.5,"v":1.9},{"h":4.6,"v":1.0},{"h":4.7,"v":2.5},{"h":4.8,"v":1.3},{"h":4.9,"v":0.7},{"h":5.0,"v":1.7},{"h":5.1,"v":1.2},{"h":5.2,"v":2.2},{"h":5.3,"v":0.8},{"h":5.4,"v":1.5},{"h":5.5,"v":2.8},{"h":5.6,"v":1.1},{"h":5.7,"v":1.8},{"h":5.8,"v":0.5},{"h":5.9,"v":1.4},{"h":6.0,"v":2.0},{"h":6.1,"v":1.2},{"h":6.2,"v":1.6},{"h":6.3,"v":0.9},{"h":6.4,"v":2.3},{"h":6.5,"v":3.4},{"h":6.6,"v":4.4},{"h":6.7,"v":2.6},{"h":6.8,"v":3.2},{"h":6.9,"v":4.7},{"h":7.0,"v":2.9},{"h":7.05,"v":6.0},{"h":7.1,"v":3.6},{"h":7.2,"v":2.1},{"h":7.3,"v":1.0},{"h":7.4,"v":1.7},{"h":7.5,"v":2.5},{"h":7.6,"v":0.8},{"h":7.7,"v":1.4},{"h":7.8,"v":2.0},{"h":7.9,"v":1.2},{"h":8.0,"v":2.6},{"h":8.1,"v":0.4},{"h":8.2,"v":1.8},{"h":8.3,"v":3.8},{"h":8.4,"v":1.5},{"h":8.5,"v":2.2},{"h":8.6,"v":0.9},{"h":8.7,"v":1.6},{"h":8.8,"v":2.8},{"h":8.9,"v":1.3},{"h":9.0,"v":2.0},{"h":9.1,"v":3.0},{"h":9.2,"v":1.1},{"h":9.3,"v":2.4},{"h":9.4,"v":1.7},{"h":9.5,"v":2.9},{"h":9.6,"v":1.4},{"h":9.7,"v":2.2},{"h":9.8,"v":3.3},{"h":9.9,"v":1.9},{"h":10.0,"v":2.6},{"h":10.1,"v":3.6},{"h":10.2,"v":2.0},{"h":10.3,"v":2.8},{"h":10.4,"v":1.6},{"h":10.5,"v":3.2},{"h":10.6,"v":2.4},{"h":10.7,"v":3.9},{"h":10.8,"v":2.2},{"h":10.9,"v":3.0},{"h":11.0,"v":4.1},{"h":11.1,"v":2.7},{"h":11.2,"v":3.5},{"h":11.3,"v":2.1},{"h":11.4,"v":4.6},{"h":11.5,"v":3.0},{"h":11.6,"v":1.8},{"h":11.7,"v":3.7},{"h":11.8,"v":2.5},{"h":11.9,"v":4.4},{"h":12.0,"v":3.1},{"h":12.1,"v":2.3},{"h":12.2,"v":5.2},{"h":12.3,"v":3.5},{"h":12.4,"v":1.4},{"h":12.5,"v":2.8},{"h":12.6,"v":4.0},{"h":12.7,"v":3.3},{"h":12.8,"v":1.8},{"h":12.9,"v":3.6},{"h":13.0,"v":2.5},{"h":13.1,"v":4.2},{"h":13.2,"v":1.2},{"h":13.3,"v":3.0},{"h":13.4,"v":2.0},{"h":13.5,"v":3.8},{"h":13.6,"v":2.6},{"h":13.7,"v":0.8},{"h":13.8,"v":3.2},{"h":13.9,"v":4.5},{"h":14.0,"v":2.2},{"h":14.1,"v":3.5},{"h":14.2,"v":1.5},{"h":14.3,"v":2.9},{"h":14.4,"v":4.1},{"h":14.5,"v":0.9},{"h":14.6,"v":3.3},{"h":14.7,"v":2.0},{"h":14.8,"v":3.8},{"h":14.9,"v":1.4},{"h":15.0,"v":2.7},{"h":15.1,"v":4.4},{"h":15.2,"v":1.8},{"h":15.3,"v":3.0},{"h":15.4,"v":2.3},{"h":15.5,"v":3.9},{"h":15.6,"v":1.2},{"h":15.7,"v":2.8},{"h":15.8,"v":3.6},{"h":15.9,"v":2.1},{"h":16.0,"v":4.0},{"h":16.1,"v":1.5},{"h":16.2,"v":3.3},{"h":16.3,"v":2.6},{"h":16.4,"v":0.6},{"h":16.5,"v":3.7},{"h":16.6,"v":2.2},{"h":16.7,"v":4.3},{"h":16.8,"v":1.7},{"h":16.9,"v":3.0},{"h":17.0,"v":2.4},{"h":17.1,"v":3.8},{"h":17.2,"v":1.1},{"h":17.3,"v":2.9},{"h":17.4,"v":3.5},{"h":17.5,"v":2.0},{"h":17.6,"v":0.7},{"h":17.7,"v":3.1},{"h":17.8,"v":2.5},{"h":17.9,"v":1.6},{"h":18.0,"v":3.4},{"h":18.1,"v":2.2},{"h":18.2,"v":1.0},{"h":18.3,"v":2.8},{"h":18.4,"v":3.9},{"h":18.5,"v":1.8},{"h":18.6,"v":2.4},{"h":18.7,"v":0.8},{"h":18.8,"v":3.2},{"h":18.9,"v":1.5},{"h":19.0,"v":2.6},{"h":19.1,"v":3.5},{"h":19.2,"v":1.9},{"h":19.3,"v":1.2},{"h":19.4,"v":2.3},{"h":19.5,"v":3.0},{"h":19.6,"v":1.7},{"h":19.7,"v":2.8},{"h":19.8,"v":3.6},{"h":19.9,"v":4.8},{"h":20.0,"v":5.8},{"h":20.05,"v":7.2},{"h":20.1,"v":4.2},{"h":20.15,"v":6.3},{"h":20.2,"v":3.0},{"h":20.25,"v":8.0},{"h":20.3,"v":5.0},{"h":20.35,"v":2.4},{"h":20.4,"v":5.6},{"h":20.45,"v":8.8},{"h":20.5,"v":4.4},{"h":20.55,"v":6.8},{"h":20.6,"v":3.6},{"h":20.65,"v":8.3},{"h":20.7,"v":5.2},{"h":20.8,"v":4.0},{"h":20.9,"v":6.0},{"h":21.0,"v":3.3},{"h":21.1,"v":5.5},{"h":21.2,"v":4.6},{"h":21.3,"v":6.6},{"h":21.4,"v":3.8},{"h":21.5,"v":5.0},{"h":21.6,"v":4.2},{"h":21.7,"v":7.3},{"h":21.8,"v":3.5},{"h":21.9,"v":5.8},{"h":22.0,"v":4.4},{"h":22.1,"v":6.2},{"h":22.2,"v":3.9},{"h":22.3,"v":5.3},{"h":22.4,"v":8.0},{"h":22.5,"v":4.7},{"h":22.6,"v":3.4},{"h":22.7,"v":6.5},{"h":22.8,"v":4.1},{"h":22.9,"v":2.2},{"h":23.0,"v":5.4},{"h":23.1,"v":3.6},{"h":23.2,"v":4.8},{"h":23.3,"v":2.8},{"h":23.4,"v":3.8},{"h":23.5,"v":5.7},{"h":23.6,"v":2.5},{"h":23.7,"v":4.3},{"h":23.8,"v":3.1},{"h":23.9,"v":6.3},{"h":24.0,"v":4.0},
      {"h":0.05,"v":2.7},{"h":0.25,"v":2.0},{"h":0.45,"v":2.4},{"h":0.65,"v":2.9},{"h":0.85,"v":2.3},{"h":1.05,"v":2.1},{"h":1.25,"v":1.9},{"h":1.45,"v":2.5},{"h":1.65,"v":1.7},{"h":1.85,"v":2.2},{"h":2.05,"v":1.6},{"h":2.25,"v":2.0},{"h":2.45,"v":1.4},{"h":2.65,"v":1.8},{"h":2.85,"v":1.2},{"h":3.05,"v":1.6},{"h":3.25,"v":1.5},{"h":3.45,"v":1.9},{"h":3.65,"v":1.3},{"h":3.85,"v":1.7},{"h":4.05,"v":1.2},{"h":4.25,"v":1.5},{"h":4.45,"v":1.1},{"h":4.65,"v":1.4},{"h":4.85,"v":1.0},{"h":5.05,"v":1.3},{"h":5.25,"v":1.6},{"h":5.45,"v":1.2},{"h":5.65,"v":1.5},{"h":5.85,"v":1.1},{"h":6.05,"v":1.4},{"h":6.25,"v":1.3},{"h":6.45,"v":2.9},{"h":6.65,"v":3.1},{"h":6.85,"v":2.7},{"h":7.05,"v":3.0},{"h":7.25,"v":1.6},{"h":7.45,"v":1.3},{"h":7.65,"v":1.8},{"h":7.85,"v":1.5},{"h":8.05,"v":1.2},{"h":8.25,"v":1.7},{"h":8.45,"v":1.9},{"h":8.65,"v":2.1},{"h":8.85,"v":1.6},{"h":9.05,"v":2.3},{"h":9.25,"v":1.8},{"h":9.45,"v":2.1},{"h":9.65,"v":2.5},{"h":9.85,"v":2.0},{"h":10.05,"v":2.3},{"h":10.25,"v":2.7},{"h":10.45,"v":2.5},{"h":10.65,"v":2.9},{"h":10.85,"v":2.6},{"h":11.05,"v":3.1},{"h":11.25,"v":2.8},{"h":11.45,"v":3.3},{"h":11.65,"v":2.9},{"h":11.85,"v":3.2},{"h":12.05,"v":3.0},{"h":12.25,"v":3.4},{"h":12.45,"v":2.8},{"h":12.65,"v":3.1},{"h":12.85,"v":2.7},{"h":13.05,"v":3.0},{"h":13.25,"v":2.6},{"h":13.45,"v":2.9},{"h":13.65,"v":3.2},{"h":13.85,"v":2.5},{"h":14.05,"v":2.8},{"h":14.25,"v":3.1},{"h":14.45,"v":2.6},{"h":14.65,"v":2.9},{"h":14.85,"v":2.4},{"h":15.05,"v":3.0},{"h":15.25,"v":2.7},{"h":15.45,"v":3.2},{"h":15.65,"v":2.5},{"h":15.85,"v":2.9},{"h":16.05,"v":3.1},{"h":16.25,"v":2.6},{"h":16.45,"v":2.9},{"h":16.65,"v":3.3},{"h":16.85,"v":2.7},{"h":17.05,"v":2.4},{"h":17.25,"v":2.8},{"h":17.45,"v":2.2},{"h":17.65,"v":2.6},{"h":17.85,"v":2.3},{"h":18.05,"v":2.0},{"h":18.25,"v":2.5},{"h":18.45,"v":2.1},{"h":18.65,"v":1.8},{"h":18.85,"v":2.4},{"h":19.05,"v":2.0},{"h":19.25,"v":1.7},{"h":19.45,"v":2.2},{"h":19.65,"v":1.9},{"h":19.85,"v":2.3},{"h":20.05,"v":4.6},{"h":20.25,"v":5.1},{"h":20.45,"v":4.4},{"h":20.65,"v":5.5},{"h":20.85,"v":4.8},{"h":21.05,"v":5.2},{"h":21.25,"v":4.5},{"h":21.45,"v":5.0},{"h":21.65,"v":4.3},{"h":21.85,"v":4.9},{"h":22.05,"v":5.1},{"h":22.25,"v":4.6},{"h":22.45,"v":4.8},{"h":22.65,"v":4.2},{"h":22.85,"v":4.5},{"h":23.05,"v":4.0},{"h":23.25,"v":3.6},{"h":23.45,"v":4.1},{"h":23.65,"v":3.4},{"h":23.85,"v":3.8},
      {"h":0.12,"v":2.3},{"h":0.32,"v":3.0},{"h":0.52,"v":2.2},{"h":0.72,"v":2.6},{"h":0.92,"v":3.1},{"h":1.12,"v":2.4},{"h":1.32,"v":1.8},{"h":1.52,"v":2.0},{"h":1.72,"v":2.4},{"h":1.92,"v":1.5},{"h":2.12,"v":1.9},{"h":2.32,"v":2.3},{"h":2.52,"v":1.2},{"h":2.72,"v":2.0},{"h":2.92,"v":1.6},{"h":3.12,"v":1.2},{"h":3.32,"v":1.9},{"h":3.52,"v":1.4},{"h":3.72,"v":2.1},{"h":3.92,"v":1.0},{"h":4.12,"v":1.3},{"h":4.32,"v":1.8},{"h":4.52,"v":0.8},{"h":4.72,"v":1.6},{"h":4.92,"v":1.2},{"h":5.12,"v":0.9},{"h":5.32,"v":1.4},{"h":5.52,"v":1.8},{"h":5.72,"v":1.0},{"h":5.92,"v":1.7},{"h":6.12,"v":1.1},{"h":6.32,"v":1.8},{"h":6.52,"v":2.6},{"h":6.72,"v":3.6},{"h":6.92,"v":2.4},{"h":7.12,"v":2.8},{"h":7.32,"v":1.9},{"h":7.52,"v":1.1},{"h":7.72,"v":2.3},{"h":7.92,"v":1.7},{"h":8.12,"v":1.4},{"h":8.32,"v":2.4},{"h":8.52,"v":1.5},{"h":8.72,"v":2.5},{"h":8.92,"v":2.0},{"h":9.12,"v":1.6},{"h":9.32,"v":2.7},{"h":9.52,"v":2.2},{"h":9.72,"v":1.8},{"h":9.92,"v":2.7},{"h":10.12,"v":2.2},{"h":10.32,"v":3.1},{"h":10.52,"v":2.0},{"h":10.72,"v":2.6},{"h":10.92,"v":3.4},{"h":11.12,"v":3.0},{"h":11.32,"v":2.5},{"h":11.52,"v":3.6},{"h":11.72,"v":2.7},{"h":11.92,"v":3.4},{"h":12.12,"v":2.9},{"h":12.32,"v":3.8},{"h":12.52,"v":3.2},{"h":12.72,"v":2.4},{"h":12.92,"v":3.3},{"h":13.12,"v":2.8},{"h":13.32,"v":3.5},{"h":13.52,"v":2.3},{"h":13.72,"v":3.0},{"h":13.92,"v":2.6},{"h":14.12,"v":3.2},{"h":14.32,"v":2.4},{"h":14.52,"v":3.5},{"h":14.72,"v":2.7},{"h":14.92,"v":3.3},{"h":15.12,"v":2.2},{"h":15.32,"v":3.6},{"h":15.52,"v":2.8},{"h":15.72,"v":3.4},{"h":15.92,"v":2.4},{"h":16.12,"v":3.0},{"h":16.32,"v":3.5},{"h":16.52,"v":2.2},{"h":16.72,"v":2.8},{"h":16.92,"v":3.4},{"h":17.12,"v":2.6},{"h":17.32,"v":2.1},{"h":17.52,"v":3.0},{"h":17.72,"v":2.0},{"h":17.92,"v":2.7},{"h":18.12,"v":1.7},{"h":18.32,"v":2.3},{"h":18.52,"v":2.9},{"h":18.72,"v":2.0},{"h":18.92,"v":1.4},{"h":19.12,"v":2.2},{"h":19.32,"v":2.6},{"h":19.52,"v":1.6},{"h":19.72,"v":2.1},{"h":19.92,"v":3.2},{"h":20.12,"v":5.4},{"h":20.32,"v":4.8},{"h":20.52,"v":5.9},{"h":20.72,"v":4.5},{"h":20.92,"v":5.3},{"h":21.12,"v":4.1},{"h":21.32,"v":5.6},{"h":21.52,"v":4.4},{"h":21.72,"v":5.2},{"h":21.92,"v":4.6},{"h":22.12,"v":5.4},{"h":22.32,"v":4.3},{"h":22.52,"v":5.0},{"h":22.72,"v":4.4},{"h":22.92,"v":3.9},{"h":23.12,"v":4.5},{"h":23.32,"v":3.2},{"h":23.52,"v":4.4},{"h":23.72,"v":3.7},{"h":23.92,"v":3.3}],
    "snow": [{"h":0,"v":521},{"h":0.2,"v":529},{"h":0.5,"v":534},{"h":0.8,"v":542},{"h":1,"v":560},{"h":1.3,"v":580},{"h":1.6,"v":598},{"h":2,"v":612},{"h":2.4,"v":627},{"h":2.8,"v":637},{"h":3.2,"v":644},{"h":3.6,"v":653},{"h":4,"v":659},{"h":4.5,"v":664},{"h":5,"v":669},{"h":5.5,"v":677},{"h":6,"v":682},{"h":6.5,"v":684},{"h":7,"v":687},{"h":7.5,"v":692},{"h":8,"v":696},{"h":8.5,"v":698},{"h":8.8,"v":703},{"h":9,"v":707},{"h":9.5,"v":707},{"h":10,"v":705},{"h":10.5,"v":704},{"h":11,"v":703},{"h":11.5,"v":705},{"h":12,"v":706},{"h":12.5,"v":707},{"h":13,"v":708},{"h":13.5,"v":710},{"h":14,"v":712},{"h":14.5,"v":712},{"h":15,"v":711},{"h":15.5,"v":711},{"h":16,"v":713},{"h":16.5,"v":714},{"h":17,"v":713},{"h":17.5,"v":712},{"h":18,"v":711},{"h":18.5,"v":711},{"h":19,"v":711},{"h":19.5,"v":711},{"h":20,"v":700},{"h":20.3,"v":698},{"h":20.6,"v":695},{"h":21,"v":690},{"h":21.5,"v":688},{"h":22,"v":687},{"h":22.5,"v":685},{"h":23,"v":684},{"h":23.5,"v":683},{"h":24,"v":683}]
  },
  "vconcat": [
    {
      "width": 541, "height": 142,
      "encoding": {
        "x": {"field": "h", "type": "quantitative", "scale": {"domain": [0, 24], "nice": false}, "axis": {"values": [0,2,4,6,8,10,12,14,16,18,20,22,24], "title": null, "labelExpr": "datum.value == 24 ? '00' : (datum.value < 10 ? '0' : '') + datum.value"}},
        "y": {"field": "v", "type": "quantitative", "scale": {"domain": [-12, -3.77], "nice": false, "zero": false}, "axis": {"values": [-12,-10,-8,-6,-4], "title": ["Temperature", "[°C]"]}}
      },
      "layer": [
        {"data": {"name": "tT"}, "mark": {"type": "line", "strokeWidth": 2},
         "encoding": {
           "color": {"datum": "T", "scale": {"domain": ["T", "T dew point"], "range": ["black", "#d62728"]}, "legend": {"title": null, "orient": "bottom-right", "offset": 6}},
           "strokeDash": {"datum": "T", "scale": {"domain": ["T", "T dew point"], "range": [[1, 0], [7, 3]]}, "legend": {"title": null, "orient": "bottom-right", "offset": 6}}
         }},
        {"data": {"name": "tD"}, "mark": {"type": "line", "strokeWidth": 2},
         "encoding": {"color": {"datum": "T dew point"}, "strokeDash": {"datum": "T dew point"}}}
      ]
    },
    {
      "width": 541, "height": 142,
      "encoding": {
        "x": {"field": "h", "type": "quantitative", "scale": {"domain": [0, 24], "nice": false}, "axis": {"values": [0,2,4,6,8,10,12,14,16,18,20,22,24], "title": null, "labelExpr": "datum.value == 24 ? '00' : (datum.value < 10 ? '0' : '') + datum.value"}},
        "y": {"field": "v", "type": "quantitative", "scale": {"domain": [0, 19.4], "nice": false}, "axis": {"values": [0,5,10,15], "title": ["Precipitation rate", "[mm/h]"]}}
      },
      "layer": [
        {"data": {"name": "zero"}, "mark": {"type": "line", "strokeWidth": 2},
         "encoding": {
           "color": {"datum": "TB", "scale": {"domain": ["TB", "Dis", "Geo", "HP", "ice acc. [mm]"], "range": ["#1f77b4", "#ff7f0e", "#2ca02c", "#d62728", "#9467bd"]},
             "legend": {"title": null, "orient": "top-left", "offset": 5, "direction": "horizontal", "columns": 5, "labelFontSize": 9.5, "symbolSize": 100, "symbolType": "M-1,0L3,0", "padding": 3, "columnPadding": 17, "labelOffset": 19,
               "encode": {"symbols": {"update": {
                 "shape": {"signal": "datum.value === 'ice acc. [mm]' ? 'circle' : 'M-1,0L3,0'"},
                 "size": {"signal": "datum.value === 'ice acc. [mm]' ? 25 : 100"},
                 "fill": {"signal": "datum.value === 'ice acc. [mm]' ? '#9467bd' : 'transparent'"},
                 "stroke": {"signal": "datum.value === 'TB' ? '#1f77b4' : datum.value === 'Dis' ? '#ff7f0e' : datum.value === 'Geo' ? '#2ca02c' : datum.value === 'HP' ? '#d62728' : '#9467bd'"},
                 "strokeWidth": {"signal": "datum.value === 'ice acc. [mm]' ? 0 : 2"},
                 "opacity": {"signal": "datum.value === 'Geo' || datum.value === 'HP' ? 0.7 : 1"}
               }}}}}
         }},
        {"data": {"name": "dis"}, "mark": {"type": "line", "strokeWidth": 1.8}, "encoding": {"color": {"datum": "Dis"}}},
        {"data": {"name": "geo"}, "mark": {"type": "line", "strokeWidth": 1.8, "opacity": 0.7}, "encoding": {"color": {"datum": "Geo"}}},
        {"data": {"name": "zero"}, "mark": {"type": "line", "strokeWidth": 2, "opacity": 0.7}, "encoding": {"color": {"datum": "HP"}}},
        {"data": {"name": "ice"}, "mark": {"type": "circle", "size": 22, "opacity": 1}, "encoding": {"color": {"datum": "ice acc. [mm]"}}},
        {"data": {"values": [{"t": ["Tot Geo : 29.5 mm", "Tot TB \u00a0: 0.0 mm", "Tot Dis : 41.0 mm", "Tot HP \u00a0: 0.0 mm"]}]},
         "mark": {"type": "text", "align": "right", "baseline": "top", "fontSize": 14, "lineHeight": 14.3, "dx": -3, "dy": 0, "color": "black"},
         "encoding": {"x": {"datum": 24, "type": "quantitative"}, "y": {"datum": 19.4, "type": "quantitative"}, "text": {"field": "t"}}}
      ]
    },
    {
      "width": 541, "height": 142,
      "data": {"name": "pres"},
      "mark": {"type": "line", "strokeWidth": 2, "color": "#1f77b4"},
      "encoding": {
        "x": {"field": "h", "type": "quantitative", "scale": {"domain": [0, 24], "nice": false}, "axis": {"values": [0,2,4,6,8,10,12,14,16,18,20,22,24], "title": null, "labelExpr": "datum.value == 24 ? '00' : (datum.value < 10 ? '0' : '') + datum.value"}},
        "y": {"field": "v", "type": "quantitative", "scale": {"domain": [985, 1009.5], "nice": false, "zero": false}, "axis": {"values": [985,990,995,1000,1005], "format": "d", "title": "Pressure [hPa]"}}
      }
    },
    {
      "width": 541, "height": 142,
      "encoding": {
        "x": {"field": "h", "type": "quantitative", "scale": {"domain": [0, 24], "nice": false}, "axis": {"values": [0,2,4,6,8,10,12,14,16,18,20,22,24], "title": null, "labelExpr": "datum.value == 24 ? '00' : (datum.value < 10 ? '0' : '') + datum.value"}},
        "y": {"field": "v", "type": "quantitative", "scale": {"domain": [-36, 330], "nice": false}, "axis": {"values": [0,100,200,300], "title": ["Energy flux", "[W/m²]"]}}
      },
      "layer": [
        {"data": {"name": "sw"}, "mark": {"type": "line", "strokeWidth": 2},
         "encoding": {
           "color": {"datum": "Short waves ↓", "scale": {"domain": ["Short waves ↓", "Long waves ↓"], "range": ["#1f77b4", "#ff7f0e"]}, "legend": {"title": null, "orient": "none", "legendX": 7, "legendY": 46}}
         }},
        {"data": {"name": "lw"}, "mark": {"type": "line", "strokeWidth": 2}, "encoding": {"color": {"datum": "Long waves ↓"}}}
      ]
    },
    {
      "width": 541, "height": 142,
      "data": {"name": "wd"},
      "mark": {"type": "circle", "size": 24, "opacity": 0.5, "color": "black", "clip": true},
      "encoding": {
        "x": {"field": "h", "type": "quantitative", "scale": {"domain": [0, 24], "nice": false}, "axis": {"values": [0,2,4,6,8,10,12,14,16,18,20,22,24], "title": null, "labelExpr": "datum.value == 24 ? '00' : (datum.value < 10 ? '0' : '') + datum.value"}},
        "y": {"field": "v", "type": "quantitative", "scale": {"domain": [0, 360], "nice": false}, "axis": {"values": [0,90,180,270,360], "title": "Wind Dir. [deg]"}}
      }
    },
    {
      "width": 541, "height": 142,
      "data": {"name": "ws"},
      "mark": {"type": "circle", "size": 24, "opacity": 0.5, "color": "black", "clip": true},
      "encoding": {
        "x": {"field": "h", "type": "quantitative", "scale": {"domain": [0, 24], "nice": false}, "axis": {"values": [0,2,4,6,8,10,12,14,16,18,20,22,24], "title": null, "labelExpr": "datum.value == 24 ? '00' : (datum.value < 10 ? '0' : '') + datum.value"}},
        "y": {"field": "v", "type": "quantitative", "scale": {"domain": [-0.39, 9.36], "nice": false, "zero": false}, "axis": {"values": [0,2,4,6,8], "title": "Wind Sp. [m/s]"}}
      }
    },
    {
      "width": 541, "height": 142,
      "data": {"name": "snow"},
      "mark": {"type": "line", "strokeWidth": 2, "color": "black"},
      "encoding": {
        "x": {"field": "h", "type": "quantitative", "scale": {"domain": [0, 24], "nice": false}, "axis": {"values": [0,2,4,6,8,10,12,14,16,18,20,22,24], "title": "Time [UTC]", "titlePadding": 6, "labelLineHeight": 17, "labelExpr": "datum.value == 0 ? ['00', '2023-01-26'] : datum.value == 24 ? ['00', '2023-01-27'] : (datum.value < 10 ? '0' : '') + datum.value"}},
        "y": {"field": "v", "type": "quantitative", "scale": {"domain": [511, 723], "nice": false, "zero": false}, "axis": {"values": [550,600,650,700], "title": "Snow depth [mm]"}}
      }
    }
  ],
  "config": {
    "font": "DejaVu Sans",
    "view": {"stroke": "black", "strokeWidth": 1},
    "title": {"fontSize": 16, "fontWeight": "normal", "color": "black", "lineHeight": 17},
    "axis": {"domain": false, "grid": true, "gridColor": "#b0b0b0", "gridWidth": 1, "tickColor": "black", "tickSize": 5, "tickWidth": 1, "labelColor": "black", "labelFontSize": 14, "labelPadding": 3, "titleFontSize": 14, "titleFontWeight": "normal", "titleColor": "black", "titlePadding": 6, "titleLineHeight": 16, "labelFlush": false, "labelOverlap": false},
    "legend": {"labelFontSize": 14, "labelColor": "black", "fillColor": "white", "strokeColor": "#cccccc", "cornerRadius": 3, "padding": 5, "symbolType": "M-1,0L2,0", "symbolStrokeWidth": 2, "symbolSize": 324, "rowPadding": 3, "labelOffset": 19}
  }
}
